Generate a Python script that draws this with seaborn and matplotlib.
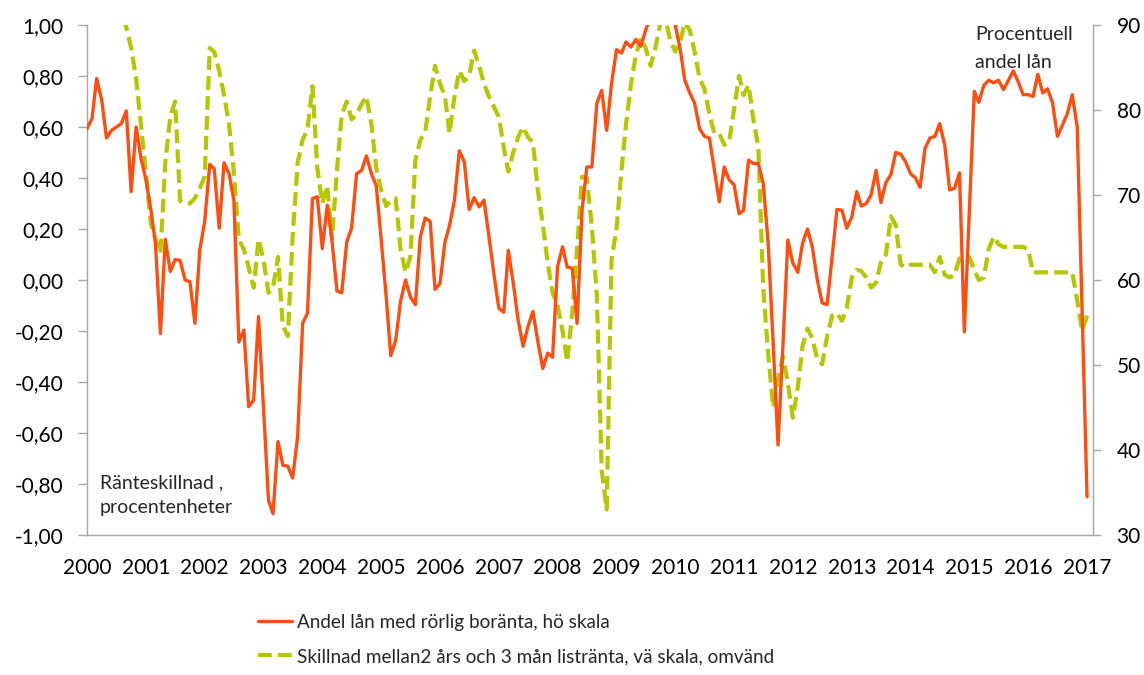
import numpy as np
import pandas as pd
import seaborn as sns
import matplotlib.pyplot as plt
import matplotlib.dates as mdates

# monthly observations, Jan 2000 - Jan 2017
months = pd.date_range('2000-01-01', periods=205, freq='MS')

# Andel lån med rörlig boränta (procent, höger skala)
andel_rorlig = [
    77.8, 79.0, 83.7, 81.2, 76.7, 77.6, 78.0, 78.4, 79.9, 70.4,
    78.0, 74.3, 71.8, 68.2, 64.3, 53.7, 64.8, 61.0, 62.4, 62.3,
    60.0, 59.8, 54.9, 63.5, 66.9, 73.6, 73.1, 66.1, 73.8, 72.5,
    69.4, 52.7, 54.1, 45.1, 45.9, 55.7, 44.9, 34.1, 32.5, 41.0,
    38.2, 38.1, 36.7, 41.6, 54.9, 56.1, 69.6, 69.8, 63.7, 68.8,
    64.7, 58.7, 58.5, 64.5, 66.1, 72.5, 72.9, 74.6, 72.5, 71.1,
    64.7, 58.0, 51.1, 52.9, 57.5, 60.0, 58.0, 57.1, 65.1, 67.3,
    66.9, 58.9, 59.6, 64.5, 66.4, 69.4, 75.2, 73.9, 68.3, 69.7,
    68.6, 69.4, 65.1, 60.8, 56.7, 56.2, 63.5, 59.6, 55.3, 52.2,
    54.5, 56.3, 52.7, 49.6, 51.4, 50.9, 61.6, 63.9, 61.5, 61.4,
    54.9, 68.2, 73.3, 73.3, 80.8, 82.3, 77.6, 83.1, 87.1, 86.7,
    88.0, 87.4, 88.3, 87.5, 89.4, 91.0, 92.0, 92.0, 91.5, 91.0,
    90.0, 87.1, 83.5, 82.0, 80.8, 77.8, 76.9, 76.7, 72.9, 69.2,
    73.3, 71.8, 71.2, 67.8, 68.2, 74.1, 73.7, 73.7, 71.4, 64.3,
    52.5, 40.6, 52.5, 64.7, 62.0, 60.9, 64.3, 66.0, 63.9, 60.0,
    57.3, 57.1, 62.7, 68.3, 68.2, 66.1, 67.4, 70.4, 68.7, 69.0,
    70.0, 72.9, 69.1, 71.5, 72.4, 75.0, 74.8, 73.9, 72.5, 72.0,
    70.9, 75.5, 76.7, 76.9, 78.4, 75.9, 70.6, 70.8, 72.6, 53.9,
    68.2, 82.2, 80.9, 82.9, 83.5, 83.2, 83.5, 82.4, 83.5, 84.6,
    83.3, 81.8, 81.8, 81.6, 84.2, 82.0, 82.5, 80.8, 76.9, 78.2,
    79.6, 81.8, 78.0, 56.5, 34.5,
]

# Skillnad 2 års och 3 mån listränta, omvänd (procentenheter, vänster skala)
skillnad_omvand = [
    1.25, 1.30, 1.30, 1.25, 1.20, 1.15, 1.10, 1.05, 0.99, 0.91,
    0.79, 0.61, 0.42, 0.22, 0.16, 0.105, 0.46, 0.64, 0.70, 0.31,
    0.30, 0.30, 0.32, 0.36, 0.405, 0.91, 0.895, 0.82, 0.725, 0.61,
    0.42, 0.16, 0.12, 0.05, -0.03, 0.16, 0.08, -0.05, -0.03, 0.09,
    -0.18, -0.22, 0.17, 0.46, 0.55, 0.59, 0.76, 0.44, 0.30, 0.37,
    0.16, 0.43, 0.65, 0.70, 0.63, 0.65, 0.69, 0.72, 0.61, 0.44,
    0.35, 0.29, 0.31, 0.32, 0.12, 0.03, 0.09, 0.47, 0.55, 0.58,
    0.72, 0.84, 0.77, 0.72, 0.575, 0.72, 0.82, 0.78, 0.80, 0.90,
    0.84, 0.77, 0.72, 0.68, 0.64, 0.52, 0.425, 0.50, 0.56, 0.60,
    0.56, 0.54, 0.35, 0.22, 0.065, -0.05, -0.10, -0.20, -0.32, -0.13,
    0.12, 0.405, 0.40, 0.21, -0.065, -0.745, -0.90, 0.08, 0.20, 0.43,
    0.61, 0.77, 0.88, 0.95, 0.91, 0.84, 0.915, 1.01, 1.02, 0.94,
    0.895, 0.935, 1.01, 0.98, 0.895, 0.79, 0.75, 0.65, 0.575, 0.575,
    0.53, 0.54, 0.67, 0.80, 0.725, 0.765, 0.63, 0.52, -0.03, -0.29,
    -0.50, -0.39, -0.30, -0.405, -0.54, -0.42, -0.26, -0.19, -0.23, -0.31,
    -0.33, -0.22, -0.14, -0.13, -0.16, -0.11, 0.01, 0.04, 0.035, 0.01,
    -0.03, -0.01, 0.07, 0.10, 0.25, 0.215, 0.06, 0.05, 0.06, 0.06,
    0.06, 0.06, 0.06, 0.03, 0.09, 0.02, 0.01, 0.02, 0.085, 0.09,
    0.09, 0.04, 0.00, 0.01, 0.12, 0.17, 0.14, 0.13, 0.13, 0.13,
    0.13, 0.13, 0.12, 0.03, 0.03, 0.03, 0.03, 0.03, 0.03, 0.03,
    0.03, 0.03, -0.08, -0.20, -0.14,
]

left_ticks = [-1.0, -0.8, -0.6, -0.4, -0.2, 0.0, 0.2, 0.4, 0.6, 0.8, 1.0]
right_ticks = [30, 40, 50, 60, 70, 80, 90]

label_andel = 'Andel lån med rörlig boränta, hö skala'
label_skillnad = 'Skillnad mellan2 års och 3 mån listränta, vä skala, omvänd'

ORANGE = '#FF4D0F'
GREEN = '#B5C700'
AXIS_GREY = '#A6A6A6'

sns.set_style('white')
plt.rcParams['font.family'] = ['Lato', 'DejaVu Sans']

df = pd.DataFrame({'Månad': months, 'Andel': andel_rorlig, 'Skillnad': skillnad_omvand})

fig = plt.figure(figsize=(11.44, 6.75), dpi=100)
ax = fig.add_axes([87 / 1144, 1 - 535 / 675, (1093 - 87) / 1144, (535 - 25) / 675])
ax2 = ax.twinx()

sns.lineplot(data=df, x='Månad', y='Skillnad', ax=ax, color=GREEN, lw=3.0,
             linestyle=(0, (3.3, 1.5)), legend=False)
sns.lineplot(data=df, x='Månad', y='Andel', ax=ax2, color=ORANGE, lw=2.4, legend=False)

ax.set_ylim(-1, 1)
ax2.set_ylim(30, 90)
ax.set_xlim(months[0], pd.Timestamp('2017-02-07'))

ax.set_yticks(left_ticks)
ax.set_yticklabels([f'{v:.2f}'.replace('.', ',') for v in left_ticks])
ax2.set_yticks(right_ticks)
ax.xaxis.set_major_locator(mdates.YearLocator())
ax.xaxis.set_major_formatter(mdates.DateFormatter('%Y'))

ax.set_xlabel('')
ax.set_ylabel('')
ax2.set_ylabel('')

for a in (ax, ax2):
    for s in a.spines.values():
        s.set_color(AXIS_GREY)
        s.set_linewidth(1)
    a.spines['top'].set_visible(False)
ax.spines['right'].set_visible(False)
ax2.spines['left'].set_visible(False)
ax2.spines['bottom'].set_visible(False)

ax.tick_params(axis='both', direction='out', length=6.5, width=1, color=AXIS_GREY,
               labelsize=15, labelcolor='black')
ax.tick_params(axis='y', pad=10.5)
ax.tick_params(axis='x', pad=10)
ax2.tick_params(axis='y', direction='out', length=6, width=1, color=AXIS_GREY,
                labelsize=15, labelcolor='black', pad=11)
ax.grid(False)
ax2.grid(False)

fig.text(100 / 1144, 1 - 483 / 675, 'Ränteskillnad ,', fontsize=14, va='center', ha='left')
fig.text(100 / 1144, 1 - 508 / 675, 'procentenheter', fontsize=14, va='center', ha='left')
fig.text(975 / 1144, 1 - 35 / 675, 'Procentuell', fontsize=14, va='center', ha='left')
fig.text(975 / 1144, 1 - 63 / 675, 'andel lån', fontsize=14, va='center', ha='left')

h_orange = ax2.get_lines()[0]
h_green = ax.get_lines()[0]
fig.legend([h_orange, h_green], [label_andel, label_skillnad], loc='upper left',
           bbox_to_anchor=(258 / 1144, 1 - 614 / 675), frameon=False, fontsize=13.6,
           handlelength=1.8, handletextpad=0.25, labelspacing=0.9,
           borderaxespad=0, borderpad=0)

fig.savefig('out.png', dpi=100)
